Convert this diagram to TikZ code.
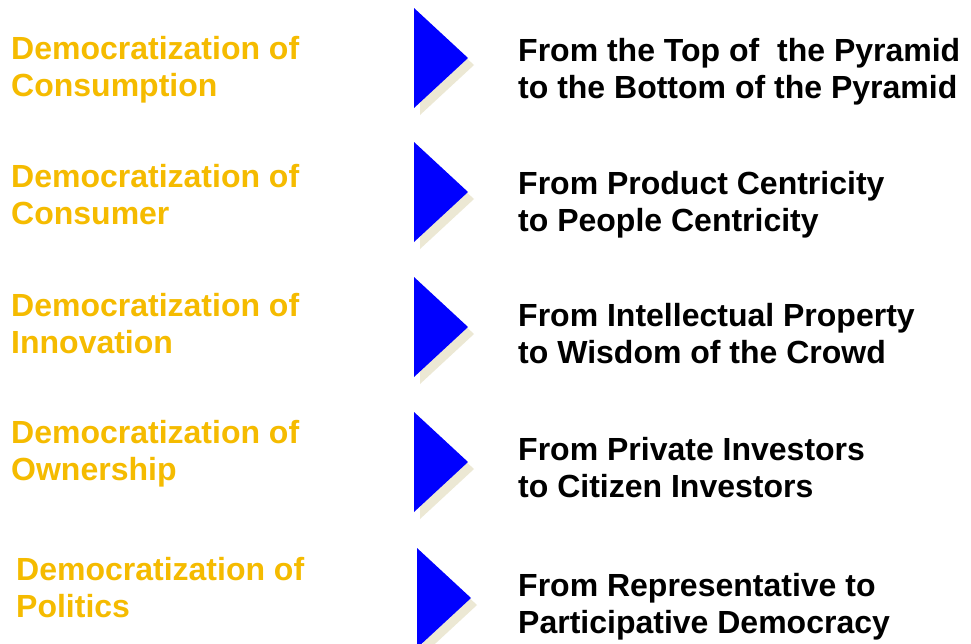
\documentclass[tikz,border=0pt]{standalone}
\usepackage{fontspec}
\setmainfont{Liberation Sans}
\usetikzlibrary{positioning}
\definecolor{DemoOro}{RGB}{245,187,0}
\definecolor{DemoAzul}{RGB}{0,0,255}
\definecolor{DemoSombra}{RGB}{236,232,212}
\tikzset{%
  demo/.style  ={anchor=base west, align=left, inner sep=0pt, text=DemoOro,
                 font=\fontsize{32}{37}\selectfont\bfseries},
  desde/.style ={anchor=base west, align=left, inner sep=0pt, text=black,
                 font=\fontsize{32}{37}\selectfont\bfseries},
  flecha/.style={fill=DemoAzul},
  sombra/.style={fill=DemoSombra}
}

\begin{document}
\begin{tikzpicture}[x=1pt, y=-1pt]
  \clip (0,0) rectangle (971,643);
  \fill[white] (0,0) rectangle (971,643);
  % flechas con sombra
  \foreach \x/\y in {414/8, 414/142, 414/277, 414/412, 417/548}{
    \fill[sombra] (\x+6,\y+7) -- (\x+60,\y+57) -- (\x+6,\y+107) -- cycle;
    \fill[flecha] (\x,\y) -- (\x+54,\y+50) -- (\x,\y+100) -- cycle;
  }
  % columna izquierda (base = segunda linea)
  \node[demo] (d1) at (11,96)  {Democratization of\\Consumption};
  \node[demo] (d2) at (11,224) {Democratization of\\Consumer};
  \node[demo] (d3) at (11,353) {Democratization of\\Innovation};
  \node[demo] (d4) at (11,480) {Democratization of\\Ownership};
  \node[demo] (d5) at (16,617) {Democratization of\\Politics};
  % columna derecha
  \node[desde] (f1) at (518,98)  {From the Top of~ the Pyramid\\to the Bottom of the Pyramid};
  \node[desde] (f2) at (518,231) {From Product Centricity\\to People Centricity};
  \node[desde] (f3) at (518,363) {From Intellectual Property\\to Wisdom of the Crowd};
  \node[desde] (f4) at (518,497) {From Private Investors\\to Citizen Investors};
  \node[desde] (f5) at (518,633) {From Representative to\\Participative Democracy};
\end{tikzpicture}
\end{document}
